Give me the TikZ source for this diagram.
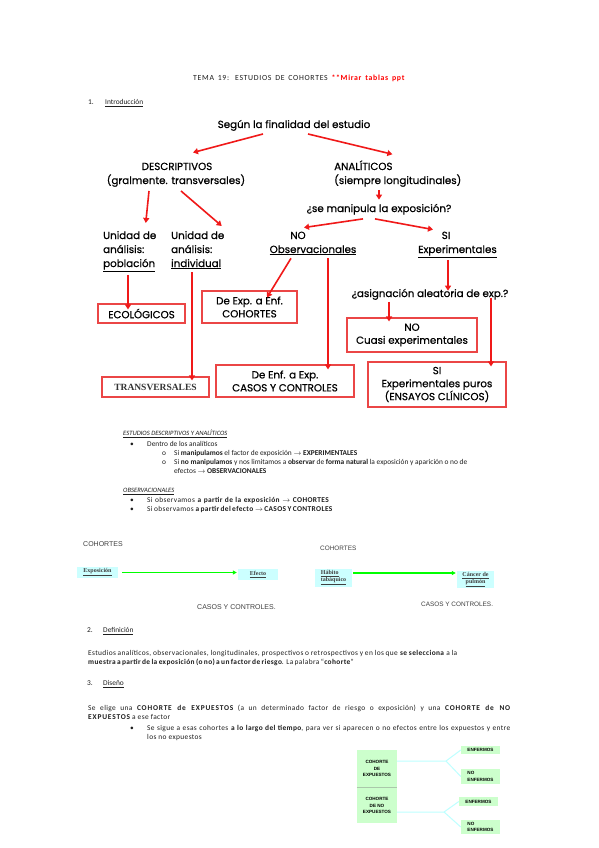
\documentclass[tikz,border=0pt]{standalone}
\usepackage{fontspec}
\usepackage{graphicx}
\setmainfont{Carlito}
\newfontfamily\comic{Poppins}[FakeBold=0.6]
\newfontfamily\tnr{Liberation Serif}
\newfontfamily\arial{Liberation Sans}
\usetikzlibrary{arrows.meta,calc}
\definecolor{fcred}{RGB}{240,25,25}
\definecolor{boxred}{RGB}{235,70,70}
\definecolor{lcyan}{RGB}{204,255,255}
\definecolor{lgreen}{RGB}{204,255,204}
\definecolor{sepgreen}{RGB}{170,200,170}
\definecolor{cline}{RGB}{190,255,255}
\definecolor{garrow}{RGB}{0,255,0}
\definecolor{txt}{RGB}{30,30,30}
\newcommand{\fitw}[2]{\makebox[#1pt][s]{#2}}
\newcommand{\bwide}[1]{{\bfseries\addfontfeature{LetterSpace=11}#1}}
\tikzset{
  bt/.style={anchor=base west, inner sep=0, text=txt, font=\fontsize{7.4}{8}\selectfont},
  btw/.style={anchor=base west, inner sep=0, text=txt, font=\fontsize{7.4}{8}\selectfont\addfontfeature{LetterSpace=5}},
  hd/.style={anchor=base west, inner sep=0, text=txt, font=\fontsize{6.6}{8}\selectfont},
  fc/.style={inner sep=0, font=\comic\fontsize{10.3}{13}\selectfont},
  rarr/.style={draw=fcred, line width=1.6pt, -{Triangle[length=5pt,width=6pt]}},
  rbox/.style={draw=boxred, line width=1.1pt, inner sep=0, align=center, font=\comic\fontsize{10.3}{13}\selectfont},
  cbox/.style={fill=lcyan, inner sep=0, align=center, text=black!75, font=\tnr\bfseries\fontsize{6}{7}\selectfont},
  garr/.style={draw=garrow, line width=1.2pt, -{Triangle[length=4pt,width=4pt]}},
  gbox/.style={fill=lgreen, inner sep=0, align=center, font=\arial\bfseries\fontsize{4.6}{6.2}\selectfont},
  glabel/.style={anchor=base west, inner sep=0, text=black!75, font=\arial\fontsize{7}{8}\selectfont},
  cconn/.style={draw=cline, line width=1pt}
}
\begin{document}
\begin{tikzpicture}[x=1pt,y=-1pt]
\path[use as bounding box, fill=white] (0,0) rectangle (599,848);

% title
\node[bt, font=\fontsize{7.8}{8}\selectfont\addfontfeature{LetterSpace=9}] (title) at (193,80.5) {\fitw{212}{TEMA 19: ESTUDIOS DE COHORTES \textcolor{red}{\textbf{**Mirar tablas ppt}}}};
\node[bt] (n1) at (88,104.5) {1.};
\node[bt] (intro) at (105,104.5) {\underline{Introducción}};

% flowchart text
\node[fc, anchor=base] (seg) at (294,128) {Según la finalidad del estudio};
\node[fc, anchor=base] (desc) at (177,170) {DESCRIPTIVOS};
\node[fc, anchor=base] (descb) at (176,184) {(gralmente. transversales)};
\node[fc, anchor=base west] (ana) at (334,170) {ANALÍTICOS};
\node[fc, anchor=base west] (anab) at (334,184) {(siempre longitudinales)};
\node[fc, anchor=base] (manip) at (379,212) {¿se manipula la exposición?};
\node[fc, anchor=base west] (u1a) at (103,239) {Unidad de};
\node[fc, anchor=base west] (u1b) at (103,253) {análisis:};
\node[fc, anchor=base west] (u1c) at (103,267) {\underline{población}};
\node[fc, anchor=base west] (u2a) at (171,239) {Unidad de};
\node[fc, anchor=base west] (u2b) at (171,253) {análisis:};
\node[fc, anchor=base west] (u2c) at (171,267) {\underline{individual}};
\node[fc, anchor=base] (no) at (298,239) {NO};
\node[fc, anchor=base] (obs) at (313,253) {\underline{Observacionales}};
\node[fc, anchor=base] (si) at (446,239) {SI};
\node[fc, anchor=base] (exp) at (457.5,253) {\underline{Experimentales}};
\node[fc, anchor=base] (asig) at (430,297) {¿asignación aleatoria de exp.?};

% boxes
\node[rbox, minimum width=87, minimum height=19] (eco) at (141.5,313.5) {ECOLÓGICOS};
\node[rbox, minimum width=95, minimum height=32] (coh) at (249.5,307) {De Exp. a Enf.\\COHORTES};
\node[rbox, minimum width=138, minimum height=32] (cyc) at (285,381) {De Enf. a Exp.\\CASOS Y CONTROLES};
\node[rbox, minimum width=107, minimum height=20, font=\tnr\bfseries\fontsize{9.5}{11}\selectfont, text=black!80] (trans) at (155.5,387) {TRANSVERSALES};
\node[rbox, minimum width=130, minimum height=34] (cuasi) at (412,335) {NO\\Cuasi experimentales};
\node[rbox, minimum width=138, minimum height=45] (puro) at (437,384.5) {SI\\Experimentales puros\\(ENSAYOS CLÍNICOS)};

% arrows
\draw[rarr] ([xshift=-31pt,yshift=-3pt]seg.south) -- ([xshift=16pt,yshift=10pt]desc.north);
\draw[rarr] ([xshift=14pt,yshift=-3pt]seg.south) -- ([xshift=29pt,yshift=6pt]ana.north);
\draw[rarr] ([xshift=-27pt,yshift=-4pt]descb.south) -- ([xshift=16pt,yshift=8pt]u1a.north);
\draw[rarr] ([xshift=5pt,yshift=-4pt]descb.south) -- ([xshift=24pt,yshift=5pt]u2a.north);
\draw[rarr] ([xshift=45pt,yshift=-3pt]anab.south west) -- ([yshift=4pt]manip.north);
\draw[rarr] ([xshift=-16pt,yshift=-4pt]manip.south) -- ([xshift=6pt,yshift=4pt]no.north);
\draw[rarr] ([xshift=-4pt,yshift=-4pt]manip.south) -- ([xshift=-13pt,yshift=2pt]si.north);
\draw[rarr] ([xshift=25pt,yshift=-3pt]u1c.south west) -- ([xshift=-13.5pt,yshift=-6pt]eco.north);
\draw[rarr] ([xshift=21pt,yshift=-3pt]u2c.south west) -- ([xshift=36.5pt,yshift=-4pt]trans.north);
\draw[rarr] ([xshift=-22pt,yshift=-3pt]obs.south) -- ([xshift=17.5pt,yshift=-7pt]coh.north);
\draw[rarr] ([xshift=15pt,yshift=-3pt]obs.south) -- ([xshift=43pt,yshift=-5pt]cyc.north);
\draw[rarr] ([xshift=-9.5pt,yshift=-2pt]exp.south) -- ([xshift=18pt,yshift=-2pt]asig.north);
\draw[rarr] ([xshift=-41pt,yshift=-2pt]asig.south) -- ([xshift=-23pt,yshift=-4pt]cuasi.north);
\draw[rarr] ([xshift=61pt,yshift=2pt]asig.south) -- ([xshift=54pt,yshift=-5pt]puro.north);

% section text
\node[hd] (h1) at (123,435.5) {\textit{\underline{ESTUDIOS DESCRIPTIVOS Y ANALÍTICOS}}};
\node[bt] (b1) at (130,446.5) {•};
\node[bt] (t1) at (147,446.5) {Dentro de los analíticos};
\node[bt] (o1) at (162,455.5) {o};
\node[bt] (t2) at (174,455.5) {Si \textbf{manipulamos} el factor de exposición $\rightarrow$ \textbf{EXPERIMENTALES}};
\node[bt] (o2) at (162,464.5) {o};
\node[bt] (t3) at (174,464.5) {Si \textbf{no manipulamos} y nos limitamos a \textbf{observar} de \textbf{forma natural} la exposición y aparición o no de};
\node[bt] (t4) at (174,473.5) {efectos $\rightarrow$ \textbf{OBSERVACIONALES}};
\node[hd] (h2) at (123,492.5) {\textit{\underline{OBSERVACIONALES}}};
\node[bt] (b2) at (130,502.5) {•};
\node[btw] (t5) at (147,502.5) {\fitw{182}{Si observamos \textbf{a partir de la exposición} $\rightarrow$ \textbf{COHORTES}}};
\node[bt] (b3) at (130,511.5) {•};
\node[btw] (t6) at (147,511.5) {\fitw{182}{Si observamos \textbf{a partir del efecto} $\rightarrow$ \textbf{CASOS Y CONTROLES}}};

% green diagrams
\node[glabel] (cl1) at (83,546.5) {COHORTES};
\node[cbox, minimum width=41, minimum height=11] (expo) at (97.5,572.5) {\underline{Exposición}};
\node[cbox, minimum width=40, minimum height=11] (efec) at (258,574.5) {\underline{Efecto}};
\coordinate (ga1) at ([xshift=4pt]expo.east);
\draw[garr] (ga1) -- ([xshift=-1pt]efec.west |- ga1);
\node[glabel] (cc1) at (197,609.5) {CASOS Y CONTROLES.};
\node[glabel, font=\arial\fontsize{6.4}{8}\selectfont] (cl2) at (320,550.5) {COHORTES};
\node[cbox, minimum width=37, minimum height=18, align=left] (hab) at (333.5,578) {\underline{Hábito}\\\underline{tabáquico}};
\node[cbox, minimum width=37, minimum height=17] (can) at (475.5,579.5) {\underline{Cáncer de}\\\underline{pulmón}};
\coordinate (ga2) at ([xshift=1pt,yshift=5pt]hab.east);
\draw[garr] (ga2) -- ([xshift=-1pt]can.west |- ga2);
\node[glabel, font=\arial\fontsize{6.4}{8}\selectfont] (cc2) at (421,606.5) {CASOS Y CONTROLES.};

% section 2
\node[bt] (n2) at (87,632.5) {2.};
\node[bt] (def) at (103,632.5) {\underline{Definición}};
\node[btw] (p1) at (88,655.5) {\fitw{369}{Estudios analíticos, observacionales, longitudinales, prospectivos o retrospectivos y en los que \textbf{se selecciona} a la}};
\node[btw] (p2) at (88,664.5) {\fitw{261}{\textbf{muestra a partir de la exposición (o no) a un factor de riesgo}. La palabra “\textbf{cohorte}”}};

% section 3
\node[bt] (n3) at (87,685.5) {3.};
\node[bt] (dis) at (103,685.5) {\underline{Diseño}};
\node[btw] (p3) at (88,710.5) {\fitw{422}{Se elige una \bwide{COHORTE de EXPUESTOS} (a un determinado factor de riesgo o exposición) y una \bwide{COHORTE de NO}}};
\node[btw] (p4) at (88,719.5) {\bwide{EXPUESTOS} a ese factor};
\node[bt] (b4) at (130,730.5) {•};
\node[btw] (p5) at (147,730.5) {\fitw{363}{Se sigue a esas cohortes \textbf{a lo largo del tiempo}, para ver si aparecen o no efectos entre los expuestos y entre}};
\node[btw] (p6) at (147,739.5) {los no expuestos};

% bottom diagram
\node[gbox, minimum width=40, minimum height=37] (ce) at (377,768.5) {COHORTE\\DE\\EXPUESTOS};
\node[gbox, minimum width=40, minimum height=35] (cne) at (377,805.5) {COHORTE\\DE NO\\EXPUESTOS};
\draw[sepgreen, line width=1.2pt] (ce.south west) -- (ce.south east);
\node[gbox, minimum width=39, minimum height=8, align=left] (e1) at (480.5,750) {ENFERMOS};
\node[gbox, minimum width=39, minimum height=15, align=left] (ne1) at (480.5,776.5) {NO\\ENFERMOS};
\node[gbox, minimum width=39, minimum height=9, align=left] (e2) at (478.5,801.5) {ENFERMOS};
\node[gbox, minimum width=39, minimum height=14, align=left] (ne2) at (480.5,827) {NO\\ENFERMOS};
\coordinate (j1) at (446,761);
\coordinate (j2) at (444,812);
\draw[cconn] (ce.east |- j1) -- (j1) -- (e1.west);
\draw[cconn] (j1) -- (ne1.west);
\draw[cconn] (cne.east |- j2) -- (j2) -- (e2.west);
\draw[cconn] (j2) -- (ne2.west);
\end{tikzpicture}
\end{document}
